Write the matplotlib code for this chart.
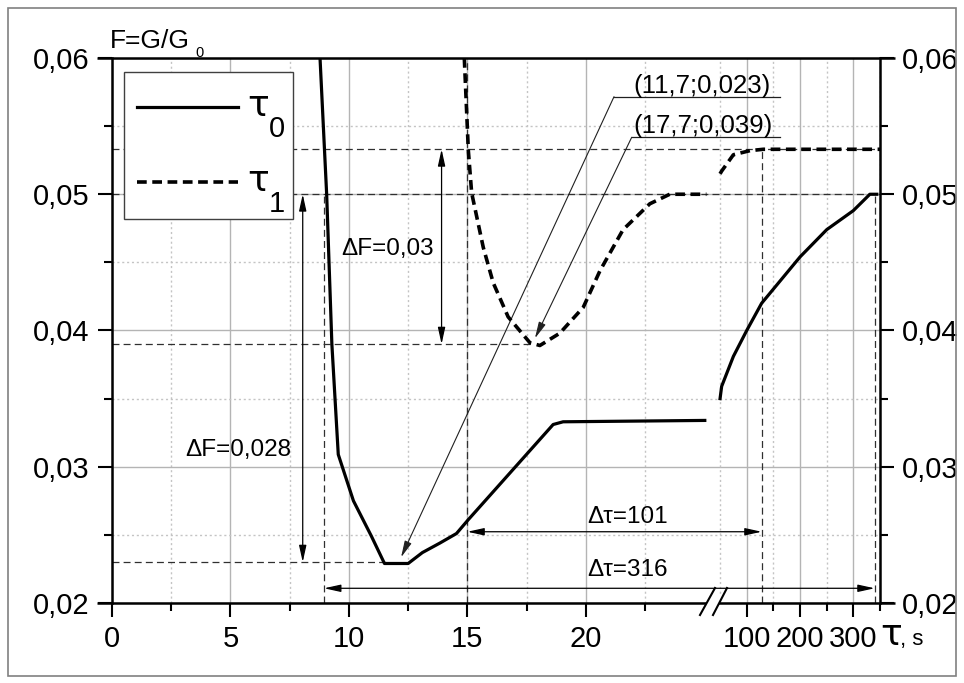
import numpy as np
import matplotlib
matplotlib.use('Agg')
import matplotlib.pyplot as plt
import matplotlib.transforms as mtransforms
from matplotlib.patches import Rectangle, Polygon
from matplotlib.lines import Line2D

plt.rcParams['font.family'] = ['Liberation Sans', 'DejaVu Sans']
plt.rcParams['lines.scale_dashes'] = False

# ---------------- data ----------------
tau0_x1 = [8.78, 9.06, 9.28, 9.55, 10.19, 10.95, 11.5, 12.5, 13.1, 13.84, 14.54, 15.03, 18.62, 19.04, 25.02]
tau0_y1 = [0.0600, 0.0500, 0.0390, 0.0309, 0.0275, 0.0249, 0.0229, 0.0229, 0.0237, 0.0244, 0.0251, 0.0261, 0.0331, 0.0333, 0.0334]
tau0_x2 = [50, 53, 75, 100, 128, 200, 250, 300, 331, 344]
tau0_y2 = [0.0350, 0.0359, 0.0381, 0.0400, 0.0420, 0.0454, 0.0474, 0.0488, 0.0500, 0.0500]

tau1_x1 = [14.87, 15.04, 15.18, 15.67, 16.09, 16.72, 17.64, 18.06, 18.9, 19.89, 20.6, 21.57, 22.7, 23.54, 25.09]
tau1_y1 = [0.0600, 0.0532, 0.0501, 0.0461, 0.0435, 0.0410, 0.0391, 0.0389, 0.0398, 0.0417, 0.0444, 0.0474, 0.0493, 0.0500, 0.0500]
tau1_x2 = [50, 53, 75, 106, 131, 350]
tau1_y2 = [0.0515, 0.0517, 0.0529, 0.0532, 0.0533, 0.0533]

x_major = [0, 5, 10, 15, 20, 100, 200, 300]
x_major_labels = ['0', '5', '10', '15', '20', '100', '200', '300']
x_minor = [2.5, 7.5, 12.5, 17.5, 22.5, 150, 250, 350]
x_minor_grid_extra = [50]
y_major = [0.02, 0.03, 0.04, 0.05, 0.06]
y_major_labels = ['0,02', '0,03', '0,04', '0,05', '0,06']
y_minor = [0.025, 0.035, 0.045, 0.055]

# reference (annotation) values
F_min0, tau_min0 = 0.023, 11.7
F_min1, tau_min1 = 0.039, 17.7
F_end0, F_end1 = 0.050, 0.0533
tau_a, tau_b, tau_c, tau_d = 8.95, 15.0, 128.0, 340.0

# ---------------- broken x scale ----------------
A = 25.45
C = 40.93
D = 0.01
K = 0.022503


def fwd(x):
    x = np.asarray(x, dtype=float)
    return np.where(x <= A, x, np.where(x <= C, A + (x - A) * D / (C - A), A + D + (x - C) * K))


def inv(u):
    u = np.asarray(u, dtype=float)
    return np.where(u <= A, u, np.where(u <= A + D, A + (u - A) * (C - A) / D, C + (u - A - D) / K))


W, H = 964, 683
fig = plt.figure(figsize=(W / 100, H / 100), dpi=100)
fig.patch.set_facecolor('white')
pix = mtransforms.Affine2D().scale(1 / W, -1 / H).translate(0, 1) + fig.transFigure

ax = fig.add_axes([112 / W, 80 / H, 768 / W, 545 / H])
ax.set_xscale('function', functions=(fwd, inv))
ax.set_xlim(0, 350)
ax.set_ylim(0.02, 0.06)

ax.set_xticks(x_major)
ax.set_xticklabels(x_major_labels)
ax.set_xticks(x_minor, minor=True)
ax.set_yticks(y_major)
ax.set_yticklabels(y_major_labels)
ax.set_yticks(y_minor, minor=True)

ax.tick_params(which='major', direction='out', length=10, width=1.5, labelsize=21,
               pad=6, top=False, right=True, labelright=True)
ax.tick_params(which='minor', direction='out', length=6, width=1.5, top=False, right=True)

ax.set_axisbelow(True)
ax.grid(which='major', color='#b4b4b4', lw=1.0, ls='-')
ax.grid(which='minor', color='#c4c4c4', lw=1.0, ls=(0, (1.5, 2.0)))
for xg in x_minor_grid_extra:
    ax.axvline(xg, color='#c4c4c4', lw=1.0, ls=(0, (1.5, 2.0)), zorder=1)

for s in ['left', 'right']:
    ax.spines[s].set_linewidth(1.8)
for s in ['top', 'bottom']:
    ax.spines[s].set_visible(False)
ext = 15 / 768
for yy in (0, 1):
    ax.plot([-ext, 1 + ext], [yy, yy], transform=ax.transAxes, clip_on=False,
            color='k', lw=1.8, solid_capstyle='butt', zorder=6)

# reference dashed lines
ref_kw = dict(color='#303030', lw=0.9, dashes=(5, 3), zorder=2)
ax.plot([0, 350], [F_end1, F_end1], **ref_kw)
ax.plot([0, 350], [F_end0, F_end0], **ref_kw)
ax.plot([0, tau_min1], [F_min1, F_min1], **ref_kw)
ax.plot([0, tau_min0], [F_min0, F_min0], **ref_kw)
ax.plot([tau_a, tau_a], [0.02, F_end0], **ref_kw)
ax.plot([tau_b, tau_b], [0.02, 0.06], **ref_kw)
ax.plot([tau_c, tau_c], [0.02, F_end1], **ref_kw)
ax.plot([tau_d, tau_d], [0.02, F_end0], **ref_kw)

# curves
ax.plot(tau0_x1, tau0_y1, color='k', lw=2.3, zorder=4)
ax.plot(tau0_x2, tau0_y2, color='k', lw=2.3, zorder=4)
ax.plot(tau1_x1, tau1_y1, color='k', lw=2.6, dashes=(7, 4), zorder=4)
ax.plot(tau1_x2, tau1_y2, color='k', lw=2.6, dashes=(7, 4), zorder=4)

# dimension arrows
dbl = dict(arrowstyle='<|-|>,head_length=1.0,head_width=0.22', mutation_scale=10,
           lw=0.9, color='k', shrinkA=0, shrinkB=0)
ax.annotate('', xy=(8.05, F_min0), xytext=(8.05, F_end0), arrowprops=dbl)
ax.annotate('', xy=(13.91, F_min1), xytext=(13.91, F_end1), arrowprops=dbl)
ax.annotate('', xy=(tau_b, 0.02523), xytext=(tau_c, 0.02523), arrowprops=dbl)
ax.annotate('', xy=(tau_a, 0.02108), xytext=(tau_d, 0.02108), arrowprops=dbl)

fs_ann = 17.5
fig.text(238, 450, 'ΔF=0,028', transform=pix, ha='center', va='center', fontsize=fs_ann)
fig.text(388, 249, 'ΔF=0,03', transform=pix, ha='center', va='center', fontsize=fs_ann)
fig.text(628, 517, 'Δτ=101', transform=pix, ha='center', va='center', fontsize=fs_ann)
fig.text(628, 570, 'Δτ=316', transform=pix, ha='center', va='center', fontsize=fs_ann)

# leader annotations
lead = dict(arrowstyle='-|>,head_length=1.0,head_width=0.22', mutation_scale=10,
            lw=0.8, color='#202020', shrinkA=0, shrinkB=0)
ax.annotate('', xy=(12.2, 0.02335), xycoords='data', xytext=(614, 96.7), textcoords=pix, arrowprops=lead)
ax.annotate('', xy=(17.85, 0.03942), xycoords='data', xytext=(631.7, 137.3), textcoords=pix, arrowprops=lead)
fig.add_artist(Line2D([614, 780], [96.7, 96.7], transform=pix, color='#202020', lw=0.9))
fig.add_artist(Line2D([631.7, 780], [137.3, 137.3], transform=pix, color='#202020', lw=0.9))
fig.text(633, 93, '(11,7;0,023)', transform=pix, ha='left', va='baseline', fontsize=18.5)
fig.text(633, 133, '(17,7;0,039)', transform=pix, ha='left', va='baseline', fontsize=18.5)

# axis break marks
fig.add_artist(Polygon([(702.8, 610), (715.6, 610), (722.9, 596), (710.6, 596)], closed=True,
                       transform=pix, facecolor='white', edgecolor='none', zorder=7))
fig.add_artist(Line2D([700, 715], [615, 588], transform=pix, color='k', lw=1.5, zorder=8))
fig.add_artist(Line2D([713, 727], [615, 588], transform=pix, color='k', lw=1.5, zorder=8))

# legend (manual, Origin-style)
fig.add_artist(Rectangle((124, 72), 169, 147, transform=pix, facecolor='white',
                         edgecolor='#404040', lw=1.0, zorder=9))
fig.add_artist(Line2D([137, 238], [107, 107], transform=pix, color='k', lw=2.3, zorder=10))
fig.add_artist(Line2D([137, 238], [182, 182], transform=pix, color='k', lw=2.6, dashes=(7, 4), zorder=10))
tau_font = ['DejaVu Sans']
fig.text(247, 116, 'τ', transform=pix, fontsize=26, va='baseline', zorder=10, family=tau_font)
fig.text(269, 137, '0', transform=pix, fontsize=21, va='baseline', zorder=10)
fig.text(247, 191, 'τ', transform=pix, fontsize=26, va='baseline', zorder=10, family=tau_font)
fig.text(269, 212, '1', transform=pix, fontsize=21, va='baseline', zorder=10)

# axis titles
fig.text(110, 48, 'F=G/G', transform=pix, fontsize=19, va='baseline')
fig.text(195, 57, '0', transform=pix, fontsize=10.5, va='baseline')
fig.text(880, 645, 'τ', transform=pix, fontsize=26, va='baseline', family=tau_font)
fig.text(900, 645, ', s', transform=pix, fontsize=16, va='baseline')

# outer frame
fig.add_artist(Rectangle((8, 8), 948, 668, transform=pix, fill=False, edgecolor='#808080', lw=1.2))

fig.savefig('out.png', dpi=100, facecolor='white')
